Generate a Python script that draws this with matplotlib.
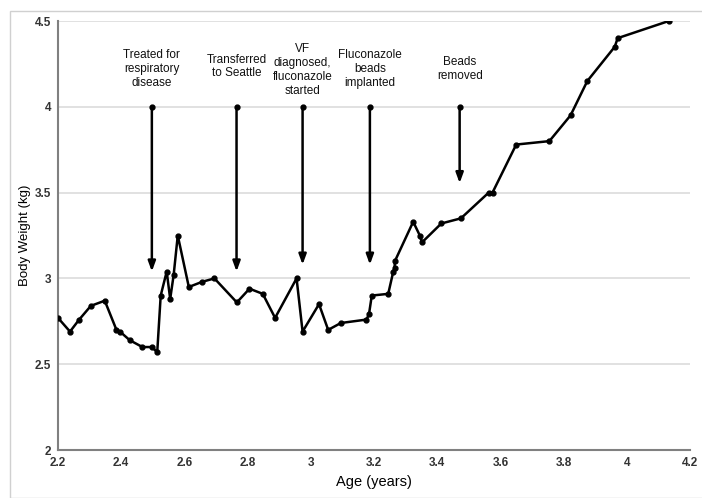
import matplotlib
matplotlib.use("Agg")
import matplotlib.pyplot as plt
from matplotlib.patches import Rectangle

plt.rcParams['font.family'] = ['Liberation Sans', 'DejaVu Sans']

age = [2.20, 2.238, 2.267, 2.304, 2.348, 2.385, 2.396, 2.427, 2.467, 2.497, 2.514,
       2.525, 2.544, 2.555, 2.566, 2.579, 2.614, 2.656, 2.695, 2.766, 2.806, 2.848,
       2.887, 2.955, 2.974, 3.026, 3.055, 3.095, 3.176, 3.184, 3.193, 3.245, 3.261,
       3.265, 3.266, 3.324, 3.345, 3.352, 3.413, 3.475, 3.563, 3.575, 3.650, 3.755,
       3.822, 3.875, 3.962, 3.971, 4.133]
weight = [2.77, 2.69, 2.76, 2.84, 2.87, 2.70, 2.69, 2.64, 2.60, 2.60, 2.57,
          2.90, 3.04, 2.88, 3.02, 3.25, 2.95, 2.98, 3.00, 2.86, 2.94, 2.91,
          2.77, 3.00, 2.69, 2.85, 2.70, 2.74, 2.76, 2.79, 2.90, 2.91, 3.04,
          3.06, 3.10, 3.33, 3.25, 3.21, 3.32, 3.35, 3.50, 3.50, 3.78, 3.80,
          3.95, 4.15, 4.35, 4.40, 4.50]

event_labels = ["Treated for\nrespiratory\ndisease",
                "Transferred\nto Seattle",
                "VF\ndiagnosed,\nfluconazole\nstarted",
                "Fluconazole\nbeads\nimplanted",
                "Beads\nremoved"]
event_age = [2.497, 2.765, 2.974, 3.187, 3.471]
arrow_top = [4.0, 4.0, 4.0, 4.0, 4.0]
arrow_tip = [3.04, 3.04, 3.08, 3.08, 3.555]
label_y = [4.22, 4.235, 4.215, 4.22, 4.22]

xticks = [2.2, 2.4, 2.6, 2.8, 3.0, 3.2, 3.4, 3.6, 3.8, 4.0, 4.2]
xticklabels = ["2.2", "2.4", "2.6", "2.8", "3", "3.2", "3.4", "3.6", "3.8", "4", "4.2"]
yticks = [2, 2.5, 3, 3.5, 4, 4.5]
yticklabels = ["2", "2.5", "3", "3.5", "4", "4.5"]

W, H = 702, 498
fig = plt.figure(figsize=(W / 100, H / 100), dpi=100)
fig.patches.append(Rectangle((10 / W, 0), 1, 1 - 11 / H, transform=fig.transFigure,
                             fill=False, edgecolor='#d0d0d0', linewidth=1))
ax = fig.add_axes([58 / W, 1 - 450 / H, (690 - 58) / W, (450 - 21) / H])

ax.set_xlim(2.2, 4.2)
ax.set_ylim(2, 4.5)
for y in yticks[1:]:
    ax.axhline(y, color='#dcdcdc', linewidth=1.2, zorder=0)

ax.plot(age, weight, color='black', linewidth=1.8, marker='o', markersize=3.5, zorder=3)

for x, y0, y1, lab, ly in zip(event_age, arrow_top, arrow_tip, event_labels, label_y):
    ax.annotate('', xy=(x, y1), xytext=(x, y0),
                arrowprops=dict(arrowstyle='-|>,head_length=0.6,head_width=0.22',
                                color='black', linewidth=1.8, shrinkA=0, shrinkB=0))
    ax.plot([x], [y0], marker='o', color='black', markersize=3.5)
    ax.text(x, ly, lab, ha='center', va='center', fontsize=8.5, linespacing=1.2,
            color='#111111')

ax.set_xticks(xticks)
ax.set_xticklabels(xticklabels)
ax.set_yticks(yticks)
ax.set_yticklabels(yticklabels)
ax.tick_params(axis='both', length=0, labelsize=8.5, pad=5)
for lbl in ax.get_xticklabels() + ax.get_yticklabels():
    lbl.set_fontweight('bold')
    lbl.set_color('#333333')

for s in ['top', 'right']:
    ax.spines[s].set_visible(False)
for s in ['left', 'bottom']:
    ax.spines[s].set_color('#808080')
    ax.spines[s].set_linewidth(1.5)

ax.set_xlabel('Age (years)', fontsize=10.5, labelpad=4)
ax.set_ylabel('Body Weight (kg)', fontsize=9.5, labelpad=3)

fig.savefig('out.png', dpi=100)
